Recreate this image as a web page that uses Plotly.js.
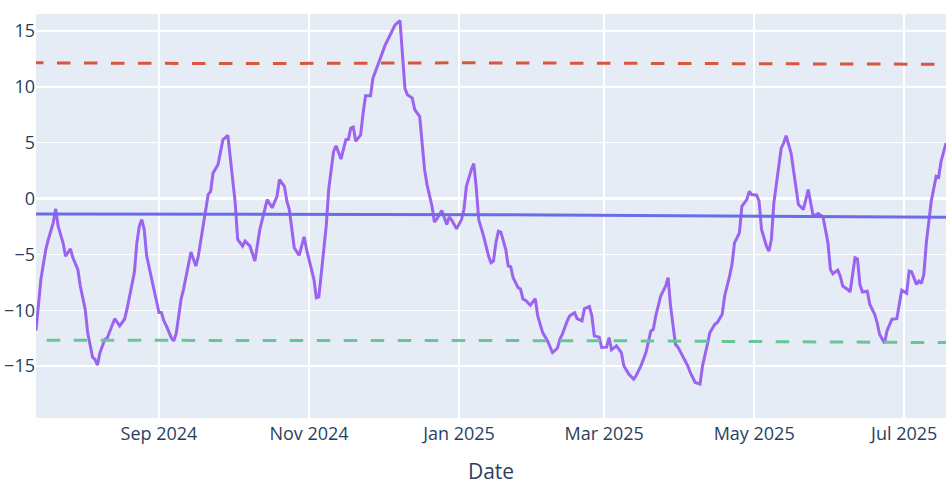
<!DOCTYPE html>
<html>
<head>
<meta charset="utf-8">
<script src="https://cdn.plot.ly/plotly-3.0.1.min.js"></script>
<style>html,body{margin:0;padding:0;background:#fff;}#chart{width:951px;height:498px;}</style>
</head>
<body>
<div id="chart"></div>
<script>
const dates = ["2024-07-13","2024-07-15","2024-07-17","2024-07-18","2024-07-20","2024-07-21","2024-07-22","2024-07-24","2024-07-25","2024-07-27","2024-07-28","2024-07-30","2024-07-31",
"2024-08-02","2024-08-03","2024-08-05","2024-08-06","2024-08-07","2024-08-08","2024-08-10","2024-08-11","2024-08-13","2024-08-14","2024-08-16","2024-08-18","2024-08-19","2024-08-20","2024-08-22","2024-08-23","2024-08-24","2024-08-25","2024-08-26","2024-08-27","2024-08-29","2024-08-30","2024-08-31",
"2024-09-01","2024-09-02","2024-09-03","2024-09-04","2024-09-06","2024-09-07","2024-09-08","2024-09-10","2024-09-11","2024-09-14","2024-09-16","2024-09-17","2024-09-19","2024-09-21","2024-09-22","2024-09-23","2024-09-25","2024-09-27","2024-09-29","2024-09-30",
"2024-10-02","2024-10-03","2024-10-05","2024-10-06","2024-10-08","2024-10-10","2024-10-11","2024-10-12","2024-10-14","2024-10-15","2024-10-17","2024-10-19","2024-10-20","2024-10-22","2024-10-23","2024-10-24","2024-10-26","2024-10-28","2024-10-30","2024-10-31",
"2024-11-03","2024-11-04","2024-11-05","2024-11-07","2024-11-08","2024-11-09","2024-11-11","2024-11-12","2024-11-14","2024-11-16","2024-11-17","2024-11-18","2024-11-19","2024-11-20","2024-11-22","2024-11-23","2024-11-24","2024-11-26","2024-11-27","2024-11-29",
"2024-12-01","2024-12-02","2024-12-04","2024-12-06","2024-12-08","2024-12-09","2024-12-10","2024-12-11","2024-12-13","2024-12-14","2024-12-16","2024-12-17","2024-12-18","2024-12-19","2024-12-21","2024-12-22","2024-12-23","2024-12-25","2024-12-27","2024-12-28","2024-12-29","2024-12-31",
"2025-01-02","2025-01-03","2025-01-04","2025-01-06","2025-01-07","2025-01-08","2025-01-09","2025-01-11","2025-01-13","2025-01-14","2025-01-15","2025-01-16","2025-01-17","2025-01-18","2025-01-20","2025-01-21","2025-01-22","2025-01-23","2025-01-25","2025-01-26","2025-01-27","2025-01-28","2025-01-30",
"2025-02-01","2025-02-02","2025-02-04","2025-02-06","2025-02-08","2025-02-10","2025-02-11","2025-02-12","2025-02-14","2025-02-15","2025-02-17","2025-02-18","2025-02-20","2025-02-21","2025-02-23","2025-02-24","2025-02-25","2025-02-27","2025-02-28",
"2025-03-02","2025-03-03","2025-03-04","2025-03-06","2025-03-08","2025-03-09","2025-03-11","2025-03-13","2025-03-14","2025-03-16","2025-03-18","2025-03-20","2025-03-21","2025-03-22","2025-03-24","2025-03-26","2025-03-27","2025-03-28","2025-03-30","2025-03-31",
"2025-04-02","2025-04-04","2025-04-05","2025-04-07","2025-04-09","2025-04-10","2025-04-12","2025-04-13","2025-04-15","2025-04-16","2025-04-18","2025-04-19","2025-04-21","2025-04-22","2025-04-23","2025-04-25","2025-04-26","2025-04-28","2025-04-29","2025-04-30",
"2025-05-02","2025-05-03","2025-05-04","2025-05-06","2025-05-07","2025-05-08","2025-05-09","2025-05-11","2025-05-12","2025-05-13","2025-05-14","2025-05-16","2025-05-17","2025-05-18","2025-05-19","2025-05-21","2025-05-23","2025-05-24","2025-05-25","2025-05-27","2025-05-29","2025-05-31",
"2025-06-01","2025-06-02","2025-06-04","2025-06-05","2025-06-06","2025-06-08","2025-06-09","2025-06-11","2025-06-12","2025-06-13","2025-06-14","2025-06-16","2025-06-17","2025-06-19","2025-06-20","2025-06-21","2025-06-23","2025-06-24","2025-06-26","2025-06-28","2025-06-29","2025-06-30",
"2025-07-02","2025-07-03","2025-07-04","2025-07-06","2025-07-07","2025-07-08","2025-07-09","2025-07-10","2025-07-12","2025-07-13","2025-07-14","2025-07-15","2025-07-16","2025-07-18"];

const oscillator = [-11.8,-7.2,-4.55,-3.66,-2.17,-0.92,-2.47,-3.96,-5.15,-4.5,-5.3,-6.34,-7.83,
-9.9,-12.0,-14.2,-14.4,-14.9,-13.8,-12.6,-12.45,-11.25,-10.75,-11.4,-10.8,-9.9,-8.7,-6.6,-3.96,-2.47,-1.88,-2.77,-5.15,-7.08,-8.1,-9.3,
-10.2,-10.2,-10.95,-11.4,-12.45,-12.74,-12.1,-9.0,-8.1,-4.79,-6.04,-5.15,-2.17,0.36,0.65,2.29,3.04,5.27,5.65,3.78,
-0.39,-3.66,-4.26,-3.81,-4.26,-5.6,-3.96,-2.77,-0.98,-0.09,-0.83,0.21,1.7,1.1,-0.24,-0.98,-4.4,-5.09,-3.42,-4.55,
-7.23,-8.87,-8.8,-4.55,-2.47,0.8,4.22,4.73,3.54,5.27,5.3,6.31,6.4,5.12,5.71,7.65,9.2,9.2,10.77,11.96,
13.24,13.75,14.64,15.54,15.92,13.3,9.88,9.29,8.99,7.95,7.35,4.97,2.59,1.25,-0.69,-2.1,-1.82,-1.07,-2.32,-1.64,-1.93,-2.71,
-1.88,-0.98,1.1,2.59,3.13,1.0,-1.88,-3.36,-5.15,-5.74,-5.6,-3.96,-2.92,-3.0,-4.55,-6.04,-6.1,-7.08,-7.97,-8.1,-9.0,-9.1,-9.55,
-8.96,-10.5,-12.0,-12.74,-13.78,-13.4,-12.59,-12.14,-10.95,-10.5,-10.21,-10.74,-10.95,-9.85,-9.67,-10.5,-12.29,-12.4,-13.33,
-13.3,-12.44,-13.54,-13.18,-13.78,-14.97,-15.71,-16.16,-15.86,-14.95,-13.78,-11.85,-11.7,-10.5,-8.72,-7.83,-7.08,-9.6,-13.04,-13.3,
-14.08,-14.97,-15.56,-16.46,-16.6,-14.97,-13.04,-12.0,-11.25,-11.1,-10.36,-8.72,-6.94,-5.89,-3.96,-3.07,-0.69,-0.09,0.65,0.36,
0.3,-0.24,-2.77,-4.26,-4.7,-3.66,-0.39,2.89,4.52,4.97,5.62,4.08,2.5,0.65,-0.54,-0.98,0.8,-0.39,-1.58,-1.34,-1.64,-3.96,
-6.34,-6.73,-6.4,-6.94,-7.83,-8.13,-8.36,-5.3,-5.4,-7.68,-8.36,-8.3,-9.46,-10.36,-11.1,-12.14,-12.95,-11.85,-10.8,-10.75,-9.46,-8.21,
-8.48,-6.49,-6.55,-7.68,-7.38,-7.6,-6.78,-3.96,-0.24,0.8,1.99,1.9,3.33,4.97];

const meanDates = ["2024-07-13","2025-01-15","2025-07-18"];
const meanValues = [-1.38,-1.45,-1.67];

const upperDates = ["2024-07-10 13:00","2024-10-01","2025-01-01","2025-03-01","2025-05-01","2025-07-18"];
const upperBand = [12.15,12.08,12.15,12.12,12.08,12.02];
const lowerDates = ["2024-07-06 09:00","2024-10-01","2025-01-01","2025-03-01","2025-05-01","2025-07-18"];
const lowerBand = [-12.68,-12.69,-12.68,-12.72,-12.8,-12.89];

const data = [
  {x: dates, y: oscillator, type: 'scatter', mode: 'lines', line: {color: '#9B63F0', width: 3}, name: 'Oscillator'},
  {x: meanDates, y: meanValues, type: 'scatter', mode: 'lines', line: {color: '#6C6CE8', width: 3}, name: 'Mean'},
  {x: upperDates, y: upperBand, type: 'scatter', mode: 'lines', line: {color: '#D6573B', width: 3, dash: '13.5px,13.5px'}, name: 'Upper'},
  {x: lowerDates, y: lowerBand, type: 'scatter', mode: 'lines', line: {color: '#66C794', width: 3, dash: '13.5px,13.5px'}, name: 'Lower'}
];

const layout = {
  width: 951, height: 498,
  margin: {l: 36, r: 5, t: 14, b: 80},
  showlegend: false,
  paper_bgcolor: '#ffffff',
  plot_bgcolor: '#E5ECF6',
  font: {family: '"Open Sans", verdana, arial, sans-serif', size: 18, color: '#2a3f5f'},
  xaxis: {
    type: 'date',
    range: ['2024-07-13', '2025-07-18'],
    title: {text: 'Date', font: {size: 21}, standoff: 20},
    dtick: 'M2', tick0: '2024-09-01', tickformat: '%b %Y',
    gridcolor: '#ffffff', gridwidth: 1.5, zeroline: false, showline: false,
    ticks: '', ticklabelstandoff: 3, tickfont: {size: 18}
  },
  yaxis: {
    range: [-19.64, 16.52],
    dtick: 5, tick0: 0,
    gridcolor: '#ffffff', gridwidth: 1.5,
    zeroline: true, zerolinecolor: '#ffffff', zerolinewidth: 3,
    ticks: '', tickfont: {size: 18}
  }
};

Plotly.newPlot('chart', data, layout, {displayModeBar: false, staticPlot: true});
</script>
</body>
</html>
